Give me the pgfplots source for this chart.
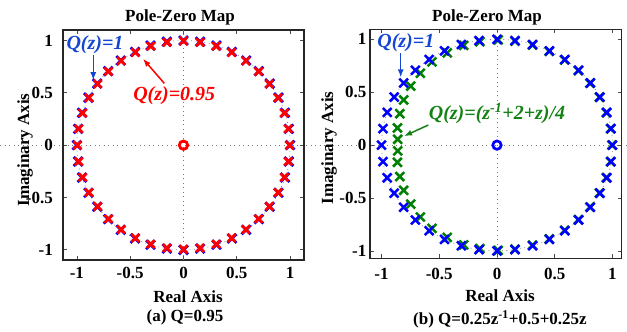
\documentclass[border=0pt]{standalone}
\usepackage{pgfplots}
\pgfplotsset{compat=1.18}
\usepackage{pgfplotstable}
\usepackage{fontspec}
\setmainfont{Liberation Serif}
\usetikzlibrary{arrows.meta}
\definecolor{mblue}{RGB}{0,0,255}
\definecolor{mred}{RGB}{255,0,0}
\definecolor{mgreen}{RGB}{0,128,0}
\definecolor{tblue}{RGB}{20,70,210}
\definecolor{tgreen}{RGB}{20,130,20}
\definecolor{dotgray}{RGB}{120,120,120}
\newcommand{\bigf}{\fontsize{17}{20}\selectfont\bfseries}
\newcommand{\annf}{\fontsize{20}{24}\selectfont\bfseries\itshape}

% poles for Q(z)=1 (unit circle)
\pgfplotstableread{
x y
1.000 0.000
0.988 0.156
0.951 0.309
0.891 0.454
0.809 0.588
0.707 0.707
0.588 0.809
0.454 0.891
0.309 0.951
0.156 0.988
0.000 1.000
-0.156 0.988
-0.309 0.951
-0.454 0.891
-0.588 0.809
-0.707 0.707
-0.809 0.588
-0.891 0.454
-0.951 0.309
-0.988 0.156
-1.000 0.000
-0.988 -0.156
-0.951 -0.309
-0.891 -0.454
-0.809 -0.588
-0.707 -0.707
-0.588 -0.809
-0.454 -0.891
-0.309 -0.951
-0.156 -0.988
0.000 -1.000
0.156 -0.988
0.309 -0.951
0.454 -0.891
0.588 -0.809
0.707 -0.707
0.809 -0.588
0.891 -0.454
0.951 -0.309
0.988 -0.156
}\bluepoles

% poles for Q(z)=0.95
\pgfplotstableread{
x y
0.995 0.000
0.983 0.156
0.946 0.307
0.887 0.452
0.805 0.585
0.704 0.704
0.585 0.805
0.452 0.887
0.307 0.946
0.156 0.983
0.000 0.995
-0.156 0.983
-0.307 0.946
-0.452 0.887
-0.585 0.805
-0.704 0.704
-0.805 0.585
-0.887 0.452
-0.946 0.307
-0.983 0.156
-0.995 0.000
-0.983 -0.156
-0.946 -0.307
-0.887 -0.452
-0.805 -0.585
-0.704 -0.704
-0.585 -0.805
-0.452 -0.887
-0.307 -0.946
-0.156 -0.983
0.000 -0.995
0.156 -0.983
0.307 -0.946
0.452 -0.887
0.585 -0.805
0.704 -0.704
0.805 -0.585
0.887 -0.452
0.946 -0.307
0.983 -0.156
}\redpoles

% poles for Q(z)=(z^-1+2+z)/4
\pgfplotstableread{
x y
0.995 0.000
0.983 0.156
0.946 0.307
0.887 0.452
0.805 0.585
0.704 0.704
0.585 0.805
0.452 0.887
0.307 0.946
0.156 0.983
0.010 0.995
-0.148 0.978
-0.288 0.943
-0.431 0.872
-0.563 0.787
-0.664 0.679
-0.747 0.557
-0.808 0.427
-0.842 0.297
-0.862 0.162
-0.860 0.055
-0.860 -0.055
-0.862 -0.162
-0.842 -0.297
-0.808 -0.427
-0.747 -0.557
-0.664 -0.679
-0.563 -0.787
-0.431 -0.872
-0.288 -0.943
-0.148 -0.978
0.010 -0.995
0.156 -0.983
0.307 -0.946
0.452 -0.887
0.585 -0.805
0.704 -0.704
0.805 -0.585
0.887 -0.452
0.946 -0.307
0.983 -0.156
}\greenpoles

\pgfplotsset{pzstyle/.style={
  scale only axis, anchor=south west,
  xtick={-1,-0.5,0,0.5,1}, ytick={-1,-0.5,0,0.5,1},
  xticklabels={-1,-0.5,0,0.5,1}, yticklabels={-1,-0.5,0,0.5,1},
  ticklabel style={font=\bigf, inner sep=0pt},
  yticklabel style={fill=white},
  tick align=inside, major tick length=4pt,
  tick style={line width=0.7pt, black!70},
  axis line style={line width=1.3pt, black!85},
  clip mode=individual,
}}

\begin{document}
\begin{tikzpicture}
\useasboundingbox (0pt,0pt) rectangle (627pt,332pt);
\draw[dotgray, line width=0.7pt, dash pattern=on 0.9pt off 3.6pt] (0pt,187pt) -- (627pt,187pt);

% ---------- left panel ----------
\begin{axis}[pzstyle, at={(63pt,72pt)}, width=241pt, height=230pt,
  xmin=-1.13, xmax=1.13, ymin=-1.097, ymax=1.10,
  xticklabel style={yshift=-7pt}, yticklabel style={xshift=-10pt}]
\draw[dotgray, line width=0.7pt, dash pattern=on 0.9pt off 3.6pt] (axis cs:0,-1.097) -- (axis cs:0,1.10);
\draw[dotgray, line width=0.6pt, dash pattern=on 0.9pt off 3.6pt] (axis cs:0,0) ellipse [x radius=1, y radius=1];
\addplot[only marks, mark=x, mark size=6.3pt, mblue, line width=2.7pt] table {\bluepoles};
\addplot[only marks, mark=x, mark size=5.6pt, mred, line width=2.8pt] table {\redpoles};
\addplot[only marks, mark=o, mark size=4.2pt, mred, line width=2.8pt] coordinates {(0,0)};
\node[tblue, font=\annf] at (axis cs:-0.83,0.96) {Q(z)=1};
\draw[tblue, line width=1.5pt, -{Latex[length=8pt,width=6pt]}] (axis cs:-0.846,0.865) -- (axis cs:-0.846,0.62);
\node[mred, font=\annf] at (axis cs:-0.087,0.475) {Q(z)=0.95};
\draw[mred, line width=1.5pt, -{Latex[length=8pt,width=6pt]}] (axis cs:-0.18,0.59) -- (axis cs:-0.38,0.825);
\end{axis}

% ---------- right panel ----------
\begin{axis}[pzstyle, at={(370pt,73.7pt)}, width=251.7pt, height=229pt,
  xmin=-1.10, xmax=1.08, ymin=-1.07, ymax=1.095,
  xticklabel style={yshift=-10pt}, yticklabel style={xshift=-3.5pt}]
\draw[dotgray, line width=0.7pt, dash pattern=on 0.9pt off 3.6pt] (axis cs:0,-1.07) -- (axis cs:0,1.095);
\draw[dotgray, line width=0.6pt, dash pattern=on 0.9pt off 3.6pt] (axis cs:0,0) ellipse [x radius=1, y radius=1];
\addplot[only marks, mark=x, mark size=6.2pt, mgreen, line width=2.5pt] table {\greenpoles};
\addplot[only marks, mark=x, mark size=6.2pt, mblue, line width=2.5pt] table {\bluepoles};
\addplot[only marks, mark=o, mark size=4.2pt, mblue, line width=2.7pt] coordinates {(0,0)};
\node[tblue, font=\annf] at (axis cs:-0.79,0.97) {Q(z)=1};
\draw[tblue, line width=1.5pt, -{Latex[length=8pt,width=6pt]}] (axis cs:-0.834,0.87) -- (axis cs:-0.834,0.64);
\node[tgreen, font=\annf] at (axis cs:0.0,0.30) {Q(z)=(z\textsuperscript{-1}+2+z)/4};
\draw[tgreen, line width=1.5pt, -{Latex[length=8pt,width=6pt]}] (axis cs:-0.595,0.19) -- (axis cs:-0.805,0.085);
\end{axis}

% ---------- titles and labels ----------
\node[font=\bigf] at (180pt,315pt) {Pole-Zero Map};
\node[font=\bigf] at (487pt,315pt) {Pole-Zero Map};
\node[font=\bigf] at (188pt,35pt) {Real Axis};
\node[font=\bigf] at (500pt,36pt) {Real Axis};
\node[font=\bigf, rotate=90] at (25pt,182pt) {Imaginary Axis};
\node[font=\bigf, rotate=90] at (329pt,184pt) {Imaginary Axis};
\node[font=\bigf, anchor=base] at (185pt,10pt) {(a) Q=0.95};
\node[font=\bigf, anchor=base] at (500pt,7pt) {(b) Q=0.25z\textsuperscript{-1}+0.5+0.25z};
\end{tikzpicture}
\end{document}
